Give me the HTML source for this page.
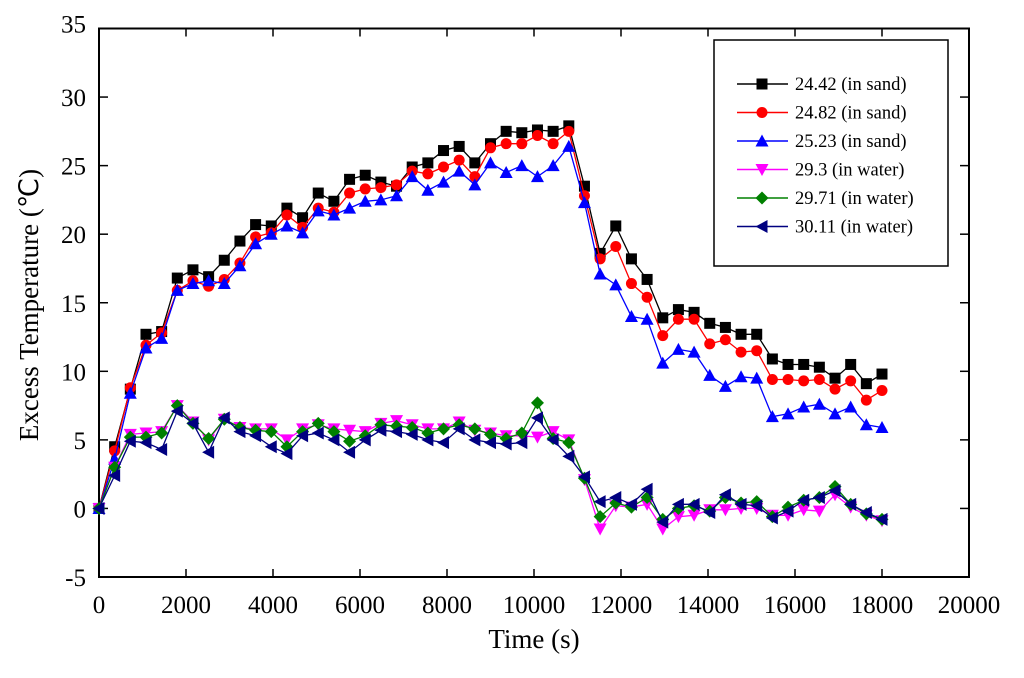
<!DOCTYPE html>
<html><head><meta charset="utf-8"><style>
body{margin:0;background:#fff;}
svg text{font-family:"Liberation Serif",serif;fill:#000;}
</style></head><body>
<svg id="chart" width="1024" height="673" xmlns="http://www.w3.org/2000/svg"></svg>
<script>
const times = [];
for (let i = 0; i <= 50; i++) times.push(i * 360);
const xTicks = [0,2000,4000,6000,8000,10000,12000,14000,16000,18000,20000];
const yTicks = [-5,0,5,10,15,20,25,30,35];
const seriesNames = ["24.42 (in sand)","24.82 (in sand)","25.23 (in sand)","29.3 (in water)","29.71 (in water)","30.11 (in water)"];
const s1 = [0,4.5,8.7,12.7,12.9,16.8,17.4,16.9,18.1,19.5,20.7,20.6,21.9,21.2,23.0,22.4,24.0,24.3,23.8,23.5,24.9,25.2,26.1,26.4,25.2,26.6,27.5,27.4,27.6,27.5,27.9,23.5,18.6,20.6,18.2,16.7,13.9,14.5,14.3,13.5,13.2,12.7,12.7,10.9,10.5,10.5,10.3,9.5,10.5,9.1,9.8];
const s2 = [0,4.2,8.8,11.9,12.8,15.9,16.6,16.2,16.7,17.9,19.8,20.1,21.4,20.5,21.9,21.6,23.0,23.3,23.4,23.6,24.6,24.4,24.9,25.4,24.2,26.3,26.6,26.6,27.2,26.6,27.5,22.8,18.2,19.1,16.4,15.4,12.6,13.8,13.8,12.0,12.3,11.4,11.5,9.4,9.4,9.3,9.4,8.7,9.3,7.9,8.6];
const s3 = [0,3.6,8.4,11.7,12.4,15.9,16.4,16.6,16.4,17.7,19.3,20.0,20.6,20.1,21.7,21.4,21.9,22.4,22.5,22.8,24.2,23.2,23.8,24.6,23.6,25.2,24.5,25.0,24.2,25.0,26.4,22.3,17.1,16.3,14.0,13.8,10.6,11.6,11.4,9.7,8.9,9.6,9.5,6.7,6.9,7.4,7.6,6.9,7.4,6.1,5.9];
const s4 = [0,3.0,5.4,5.5,5.6,7.5,6.3,5.0,6.5,5.9,5.8,5.8,5.0,5.8,6.1,5.8,5.7,5.6,6.2,6.4,6.1,5.8,5.8,6.3,5.7,5.5,5.3,5.3,5.2,5.6,5.0,2.1,-1.5,0.2,0.1,0.3,-1.5,-0.6,-0.5,-0.1,-0.1,0.0,0.0,-0.5,-0.5,-0.1,-0.2,1.0,0.1,-0.5,-0.9];
const s5 = [0,3.0,5.2,5.2,5.5,7.5,6.2,5.1,6.5,5.9,5.7,5.6,4.5,5.6,6.2,5.6,4.9,5.3,6.1,6.0,5.9,5.5,5.8,6.1,5.8,5.4,5.1,5.5,7.7,5.1,4.8,2.2,-0.6,0.4,0.1,0.8,-0.8,0.0,0.2,-0.2,0.8,0.4,0.5,-0.6,0.1,0.6,0.8,1.6,0.3,-0.4,-0.8];
const s6 = [0,2.4,4.9,4.8,4.3,7.1,6.2,4.1,6.6,5.6,5.3,4.5,4.0,5.3,5.5,5.0,4.1,5.0,5.7,5.6,5.4,5.0,4.8,5.8,5.0,4.8,4.7,4.8,6.6,5.0,3.8,2.3,0.5,0.8,0.3,1.4,-1.0,0.3,0.3,-0.3,1.0,0.3,0.2,-0.7,-0.2,0.6,0.8,1.3,0.3,-0.3,-0.8];

const NS = "http://www.w3.org/2000/svg";
const svg = document.getElementById("chart");
const X0 = 99, XW = 870, Y0 = 577, YH = 548.5;
const xs = t => X0 + t / 20000 * XW;
const ys = v => Y0 - (v + 5) / 40 * YH;
function mk(tag, attrs, parent) {
  const e = document.createElementNS(NS, tag);
  for (const k in attrs) e.setAttribute(k, attrs[k]);
  (parent || svg).appendChild(e);
  return e;
}
const ax = mk("rect", {x:X0, y:Y0-YH, width:XW, height:YH, stroke:"#000", "stroke-width":2, fill:"none"});


xTicks.forEach(t => {
  const x = xs(t);
  if (t > 0 && t < 20000) {
    const l = mk("line", {x1:x, x2:x, y1:Y0, y2:Y0-8, stroke:"#000", "stroke-width":1.5});
     
    const l2 = mk("line", {x1:x, x2:x, y1:Y0-YH, y2:Y0-YH+8, stroke:"#000", "stroke-width":1.5});
     
  }
  const tx = mk("text", {x:x, y:613, "font-size":25, "text-anchor":"middle"});
  tx.textContent = t;
  
  
});
yTicks.forEach(v => {
  const y = ys(v);
  if (v > -5 && v < 35) {
    const l = mk("line", {x1:X0, x2:X0+9, y1:y, y2:y, stroke:"#000", "stroke-width":1.5});
     
    const l2 = mk("line", {x1:X0+XW, x2:X0+XW-9, y1:y, y2:y, stroke:"#000", "stroke-width":1.5});
     
  }
  const tx = mk("text", {x:86, y:y+(v === 35 ? 4 : 9), "font-size":25, "text-anchor":"end"});
  tx.textContent = v;
  
  
});
const xt = mk("text", {x:534, y:648, "font-size":27, "text-anchor":"middle"});
xt.textContent = "Time (s)";


const yt = mk("text", {x:0, y:0, "font-size":27, "text-anchor":"middle", transform:"translate(38 305) rotate(-90)"});
yt.textContent = "Excess Temperature (\u2103)";



function marker(type, x, y, color, g) {
  const r = 5.5;
  let e;
  if (type === "sq") e = mk("rect", {x:x-r, y:y-r, width:2*r, height:2*r, fill:color}, g);
  else if (type === "ci") e = mk("circle", {cx:x, cy:y, r:r, fill:color}, g);
  else if (type === "up") e = mk("polygon", {points:`${x},${y-r-1} ${x-r-1},${y+r} ${x+r+1},${y+r}`, fill:color}, g);
  else if (type === "dn") e = mk("polygon", {points:`${x},${y+r+1} ${x-r-1},${y-r} ${x+r+1},${y-r}`, fill:color}, g);
  else if (type === "di") e = mk("polygon", {points:`${x},${y-r-1} ${x+r+1},${y} ${x},${y+r+1} ${x-r-1},${y}`, fill:color}, g);
  else e = mk("polygon", {points:`${x-r-1},${y} ${x+r},${y-r-1} ${x+r},${y+r+1}`, fill:color}, g);
  return e;
}
const data = [s1, s2, s3, s4, s5, s6];
const colors = ["#000000","#ff0000","#0000ff","#ff00ff","#008000","#000080"];
const types = ["sq","ci","up","dn","di","lt"];
[0,1,2,3,4,5].forEach(i => {
  const g = mk("g", {});
  
  
  const pts = data[i].map((v, k) => `${xs(times[k]).toFixed(1)},${ys(v).toFixed(1)}`).join(" ");
  const pl = mk("polyline", {points:pts, fill:"none", stroke:colors[i], "stroke-width":1.3}, g);
  
  
  data[i].forEach((v, k) => {
    const m = marker(types[i], xs(times[k]), ys(v), colors[i], g);
    
    
  });
});
const lg = mk("g", {});


mk("rect", {x:714, y:40, width:234, height:226, fill:"#fff", stroke:"#000", "stroke-width":1.5}, lg);
seriesNames.forEach((n, i) => {
  const y = 84 + i * 28.5;
  const en = mk("g", {}, lg);
  
  
  mk("line", {x1:737, x2:788, y1:y, y2:y, stroke:colors[i], "stroke-width":1.5}, en);
  marker(types[i], 762, y, colors[i], en);
  const t = mk("text", {x:795, y:y+6, "font-size":18.5}, en);
  t.textContent = n;
});
</script>
</body></html>
